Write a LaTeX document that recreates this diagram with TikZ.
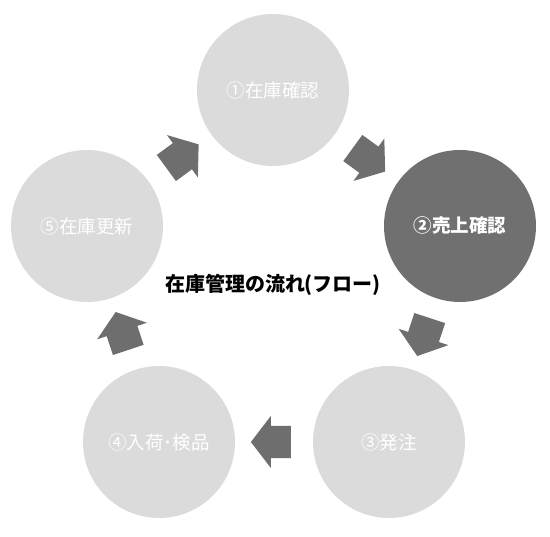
\documentclass[tikz,border=0pt]{standalone}
\usepackage{fontspec}
\setmainfont{Noto Sans CJK JP}
\usetikzlibrary{shapes.arrows}

\begin{document}
\begin{tikzpicture}[x=1pt,y=1pt,
        stage/.style={circle,fill=lightgray,minimum size=152pt,inner sep=0pt,text=white,font=\fontsize{18.5}{20}\selectfont},
        flowarrow/.style={single arrow,fill=arrowgray,minimum height=40pt,minimum width=52pt,
          single arrow head extend=10pt,single arrow tip angle=105,inner xsep=0pt,inner ysep=16pt,
          pos=0.46,sloped,allow upside down}]
        \definecolor{lightgray}{HTML}{DBDBDB}
        \definecolor{darkgray}{HTML}{707070}
        \definecolor{arrowgray}{HTML}{6E6E6E}
        \useasboundingbox (0,0) rectangle (550,537);

        \node[stage] (c1) at (273,447) {①在庫確認};
        \node[stage,fill=darkgray,font=\fontsize{18.5}{20}\selectfont\bfseries] (c2) at (460,311) {②売上確認};
        \node[stage] (c3) at (389,95) {③発注};
        \node[stage] (c4) at (159,95) {④入荷･検品};
        \node[stage] (c5) at (87,311) {⑤在庫更新};

        \node[font=\fontsize{20}{22}\selectfont\bfseries] (title) at (273,252) {在庫管理の流れ(フロー)};

        \path (c1) -- node[flowarrow] {} (c2);
        \path (c2) -- node[flowarrow] {} (c3);
        \path (c3) -- node[flowarrow] {} (c4);
        \path (c4) -- node[flowarrow] {} (c5);
        \path (c5) -- node[flowarrow] {} (c1);
\end{tikzpicture}
\end{document}
